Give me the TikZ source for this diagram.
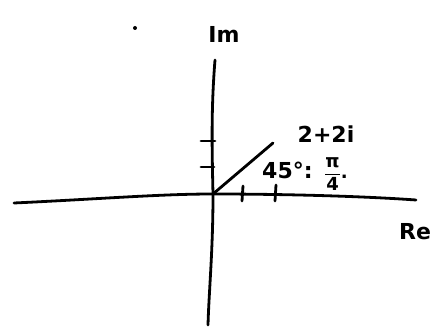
\documentclass[tikz,border=0pt]{standalone}
\usepackage{fontspec}
\setmainfont{DejaVu Sans}
\begin{document}
\begin{tikzpicture}[x=1pt,y=-1pt,
  stroke/.style={line width=2.8pt,line cap=round,black},
  lbl/.style={font=\fontsize{22}{24}\selectfont\bfseries,inner sep=0pt,anchor=center}]
\useasboundingbox (0,0) rectangle (434,328);
% axes
\coordinate (xl) at (14,203);
\coordinate (xr) at (416,200);
\coordinate (yt) at (215,60);
\coordinate (yb) at (208,325);
\coordinate (o) at (213,194);
\draw[stroke] (xl) .. controls (100,199) and (160,194) .. (o) .. controls (280,194) and (360,196) .. (xr);
\draw[stroke] (yt) .. controls (211,110) and (212,150) .. (o) .. controls (213,250) and (209,290) .. (yb);
% ticks
\coordinate (t1a) at (243,186); \coordinate (t1b) at (242,201);
\coordinate (t2a) at (276,185); \coordinate (t2b) at (275,201);
\draw[stroke] (t1a) -- (t1b);
\draw[stroke] (t2a) -- (t2b);
\coordinate (u1a) at (201,141); \coordinate (u1b) at (215,141);
\coordinate (u2a) at (201,167); \coordinate (u2b) at (214,167);
\draw[stroke] (u1a) -- (u1b);
\draw[stroke] (u2a) -- (u2b);
% vector
\coordinate (p) at (273,143);
\draw[stroke] (o) -- (p);
% dot
\fill (135,28) circle (2pt);
% labels
\node[lbl] (im) at (224,34) {Im};
\node[lbl] (z) at (326,134) {2+2i};
\node[lbl,anchor=west] (ang) at (262,170) {45°:};
\node[lbl,anchor=west,font=\fontsize{18}{20}\selectfont\bfseries] (pi) at (324,174) {$\displaystyle\frac{\mbox{π}}{\mbox{4}}$.};
\node[lbl,anchor=west] (re) at (399,232) {Re};
\end{tikzpicture}
\end{document}
